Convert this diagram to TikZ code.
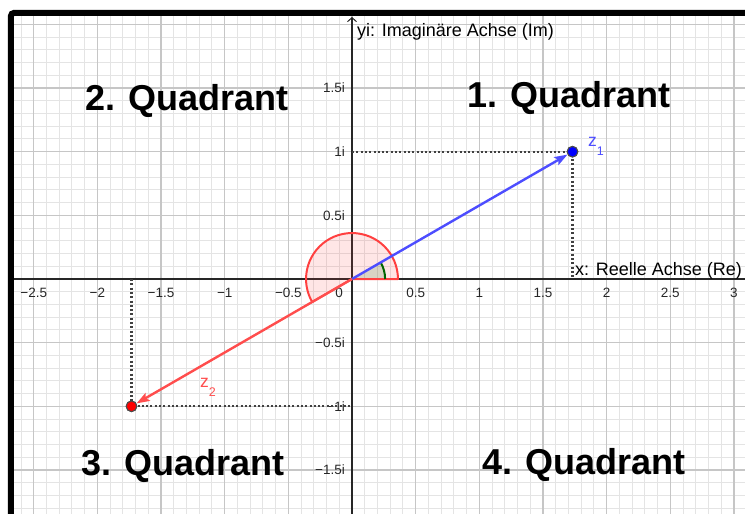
\documentclass[tikz,border=0pt]{standalone}
\usepackage{fontspec}
\setmainfont{Liberation Sans}
\usetikzlibrary{arrows.meta}
\definecolor{gmajor}{RGB}{198,198,198}
\definecolor{gminor}{RGB}{228,228,228}
\definecolor{vblue}{RGB}{77,77,255}
\definecolor{vred}{RGB}{255,77,77}
\definecolor{ptblue}{RGB}{0,0,255}
\definecolor{ptred}{RGB}{255,0,0}
\definecolor{agreen}{RGB}{0,100,0}
\definecolor{ared}{RGB}{255,64,64}
\begin{document}
\begin{tikzpicture}[x=127.3pt,y=127.3pt,
 minorgrid/.style={gminor,line width=1pt},
 majorgrid/.style={gmajor,line width=1.4pt},
 axisline/.style={black!85,line width=1.5pt},
 ticklbl/.style={font=\fontsize{13.5}{15}\selectfont,text=black!85,inner sep=0pt},
 axislbl/.style={font=\fontsize{18}{20}\selectfont,inner sep=0pt,anchor=base west},
 quadlbl/.style={font=\fontsize{36}{40}\selectfont\bfseries,inner sep=0pt,anchor=base},
 dotline/.style={black!75,line width=2.2pt,dash pattern=on 2pt off 2.3pt},
 vecline/.style={line width=2.4pt,-{Stealth[length=13pt,width=9pt,inset=2.5pt]}},
 ptdot/.style={circle,draw=black!70,line width=1pt,minimum size=10.6pt,inner sep=0pt},
 zlbl/.style={font=\fontsize{17.5}{19}\selectfont,inner sep=0pt,anchor=base west},
]
\useasboundingbox (-2.7652,-1.8460) rectangle (3.0872,2.1917);
% grid
\draw[minorgrid,step=0.1] (-2.679,-1.846) grid (3.087,2.09);
\draw[majorgrid,step=0.5] (-2.679,-1.846) grid (3.087,2.09);
% coordinates
\coordinate (O) at (0,0);
\coordinate (xl) at (-2.679,0);
\coordinate (xr) at (3.087,0);
\coordinate (yb) at (0,-1.846);
\coordinate (yt) at (0,2.058);
\coordinate (y1) at (0,1);
\coordinate (ym1) at (0,-1);
\coordinate (x1) at (1.7321,0);
\coordinate (xm1) at (-1.7321,0);
% axes
\draw[axisline] (xl) -- (xr);
\draw[axisline,-{Straight Barb[length=4pt,width=9pt,line width=1pt]}] (yb) -- (yt);
% tick labels
\foreach \v/\t [count=\i] in {-2.5/−2.5,-2/−2,-1.5/−1.5,-1/−1,-0.5/−0.5,0.5/0.5,1/1,1.5/1.5,2/2,2.5/2.5,3/3}
  \node[ticklbl] (xt\i) at (\v,-0.112) {\t};
\node[ticklbl] (xt0) at (-0.102,-0.112) {0};
\foreach \v/\t [count=\i] in {1.5/1.5i,1/1i,0.5/0.5i,-0.5/−0.5i,-1/−1i,-1.5/−1.5i}
  \node[ticklbl,anchor=east] (yt\i) at (-0.055,\v) {\t};
% axis labels
\node[axislbl] (ylab) at (0.039,1.903) {yi: Imaginäre Achse (Im)};
\node[axislbl] (xlab) at (1.752,0.026) {x: Reelle Achse (Re)};
% quadrant labels
\node[quadlbl] (q2) at (-1.296,1.322) {2. Quadrant};
\node[quadlbl] (q1) at (1.705,1.349) {1. Quadrant};
\node[quadlbl] (q3) at (-1.328,-1.540) {3. Quadrant};
\node[quadlbl] (q4) at (1.822,-1.532) {4. Quadrant};
% points
\node[ptdot,fill=ptblue] (z1) at (1.7321,1) {};
\node[ptdot,fill=ptred] (z2) at (-1.7321,-1) {};
% dotted projections
\draw[dotline] (y1) -- (z1.center) -- (x1);
\draw[dotline] (xm1) -- (z2.center) -- (ym1);
% angle sectors
\fill[ared,fill opacity=0.13] (O) -- (0.361,0) arc[start angle=0,end angle=210,radius=0.361] -- cycle;
\fill[agreen,fill opacity=0.15] (O) -- (0.26,0) arc[start angle=0,end angle=30,radius=0.26] -- cycle;
\draw[ared,line width=2pt,line join=round] (O) -- (0.361,0) arc[start angle=0,end angle=210,radius=0.361] -- cycle;
\draw[agreen,line width=2pt] (0.26,0) arc[start angle=0,end angle=30,radius=0.26];
% vectors
\draw[vecline,vblue] (O) -- (z1);
\draw[vecline,vred] (O) -- (z2);
% redraw points on top
\node[ptdot,fill=ptblue] (z1b) at (z1) {};
\node[ptdot,fill=ptred] (z2b) at (z2) {};
% labels
\node[zlbl,text=vblue] (z1lab) at (1.854,1.037) {z\raisebox{-9pt}{\fontsize{12.5}{13}\selectfont 1}};
\node[zlbl,text=vred] (z2lab) at (-1.194,-0.856) {z\raisebox{-9pt}{\fontsize{12.5}{13}\selectfont 2}};
% border
\coordinate (bA) at (3.087,2.090);
\coordinate (bB) at (-2.679,2.090);
\coordinate (bC) at (-2.679,-1.846);
\draw[black,line width=6pt,rounded corners=3pt] (bA) -- (bB) -- (bC);
\end{tikzpicture}
\end{document}
